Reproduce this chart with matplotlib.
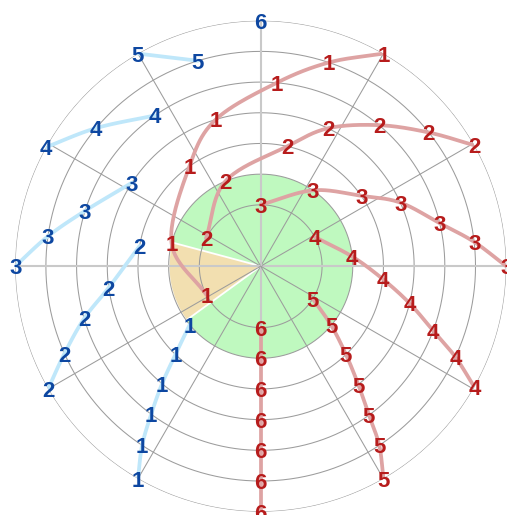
import numpy as np
import matplotlib
matplotlib.use("Agg")
import matplotlib.pyplot as plt

# ---- data (angles in degrees, radii in axis units) ----
red_r = [2, 3, 4, 5, 6, 7, 8]
red1_theta = [208, 165.5, 125.5, 107, 85, 71.5, 60]
red2_theta = [153, 112.5, 77.5, 64, 50, 38.5, 29.5]
red3_theta = [90, 55.5, 35, 24.5, 13.5, 6.5, 0]
red4_theta = [28.5, 6, -6, -14, -20.5, -25, -29.5]
red5_theta = [-32, -40, -46, -50.5, -54, -56.5, -60]
red6_theta = [-90, -90, -90, -90, -90, -90, -90]

blue1_r = [3, 4, 5, 6, 7, 8]
blue1_theta = [219.5, 226, 230, 233.5, 236.5, 240]
blue2_r = [4, 5, 6, 7, 8]
blue2_theta = [170.5, 188, 196.5, 204, 210]
blue3_r = [5, 6, 7, 8]
blue3_theta = [147, 162.5, 172, 180]
blue4_r = [6, 7, 8]
blue4_theta = [125, 140, 151]
blue5_r = [7, 8]
blue5_theta = [107, 120]
blue6_r = [8]
blue6_theta = [90]

series_labels = ["1", "2", "3", "4", "5", "6"]

bar_theta = [0, 190.5]
bar_width = [360, 51]
bar_r = [3, 3]

r_ticks = [2, 3, 4, 5, 6, 7, 8]
spoke_angles = list(range(0, 360, 30))

RED_TXT = "#b71c1c"
RED_LINE = "#dea3a3"
BLUE_TXT = "#0d47a1"
BLUE_LINE = "#bfe7fa"
GREEN = "#bff9bf"
BEIGE = "#f2dfb0"
FONT = "Liberation Sans"


def smooth(theta_deg, r, n=24):
    th = np.deg2rad(np.asarray(theta_deg, float))
    r = np.asarray(r, float)
    pts = np.column_stack([r * np.cos(th), r * np.sin(th)])
    if len(pts) < 2:
        return np.array([]), np.array([])
    if len(pts) == 2:
        t = np.linspace(0, 1, n)[:, None]
        out = pts[0] * (1 - t) + pts[1] * t
    else:
        P = np.vstack([2 * pts[0] - pts[1], pts, 2 * pts[-1] - pts[-2]])
        segs = []
        for i in range(1, len(P) - 2):
            p0, p1, p2, p3 = P[i - 1], P[i], P[i + 1], P[i + 2]
            t = np.linspace(0, 1, n, endpoint=(i == len(P) - 3))[:, None]
            seg = 0.5 * ((2 * p1) + (-p0 + p2) * t + (2 * p0 - 5 * p1 + 4 * p2 - p3) * t ** 2
                         + (-p0 + 3 * p1 - 3 * p2 + p3) * t ** 3)
            segs.append(seg)
        out = np.vstack(segs)
    tt = np.unwrap(np.arctan2(out[:, 1], out[:, 0]))
    rr = np.hypot(out[:, 0], out[:, 1])
    return tt, rr


fig = plt.figure(figsize=(5.07, 5.15), dpi=100)
ax = fig.add_axes([15.2 / 507, 3.3 / 515, 491 / 507, 491 / 515], projection="polar")
ax.set_ylim(0, 8)
ax.set_xticks([])
ax.set_yticks([])
ax.grid(False)
ax.spines["polar"].set_visible(False)

# bars
ax.bar(np.deg2rad(bar_theta[0]), bar_r[0], width=np.deg2rad(bar_width[0]),
       color=GREEN, edgecolor="none", zorder=1)
ax.bar(np.deg2rad(bar_theta[1]), bar_r[1], width=np.deg2rad(bar_width[1]),
       color=BEIGE, edgecolor="white", linewidth=1.3, zorder=1.2)

# grid
circ = np.linspace(0, 2 * np.pi, 721)
for rv in r_ticks:
    ax.plot(circ, np.full_like(circ, rv), color="#9c9c9c", lw=0.75, zorder=2)
for a in spoke_angles:
    if a % 90 == 0:
        ax.plot([np.deg2rad(a)] * 2, [0, 8], color="#c9c9c9", lw=1.5, zorder=2)
    else:
        ax.plot([np.deg2rad(a)] * 2, [0, 8], color="#9c9c9c", lw=0.75, zorder=2)

red_series = [red1_theta, red2_theta, red3_theta, red4_theta, red5_theta, red6_theta]
blue_series = [(blue1_theta, blue1_r), (blue2_theta, blue2_r), (blue3_theta, blue3_r),
               (blue4_theta, blue4_r), (blue5_theta, blue5_r), (blue6_theta, blue6_r)]

for lab, (bt, br) in zip(series_labels, blue_series):
    tt, rr = smooth(bt, br)
    if len(tt):
        ax.plot(tt, rr, color=BLUE_LINE, lw=2.7, solid_capstyle="round", zorder=3)
for lab, rt in zip(series_labels, red_series):
    tt, rr = smooth(rt, red_r)
    ax.plot(tt, rr, color=RED_LINE, lw=2.7, solid_capstyle="round", zorder=3)

for lab, (bt, br) in zip(series_labels, blue_series):
    for t, rv in zip(bt, br):
        ax.text(np.deg2rad(t), rv, lab, ha="center", va="center_baseline",
                fontsize=16, fontweight="bold", family=FONT, color=BLUE_TXT, zorder=5)
for lab, rt in zip(series_labels, red_series):
    for t, rv in zip(rt, red_r):
        ax.text(np.deg2rad(t), rv, lab, ha="center", va="center_baseline",
                fontsize=16, fontweight="bold", family=FONT, color=RED_TXT, zorder=5)

fig.savefig("out.png", dpi=100)
